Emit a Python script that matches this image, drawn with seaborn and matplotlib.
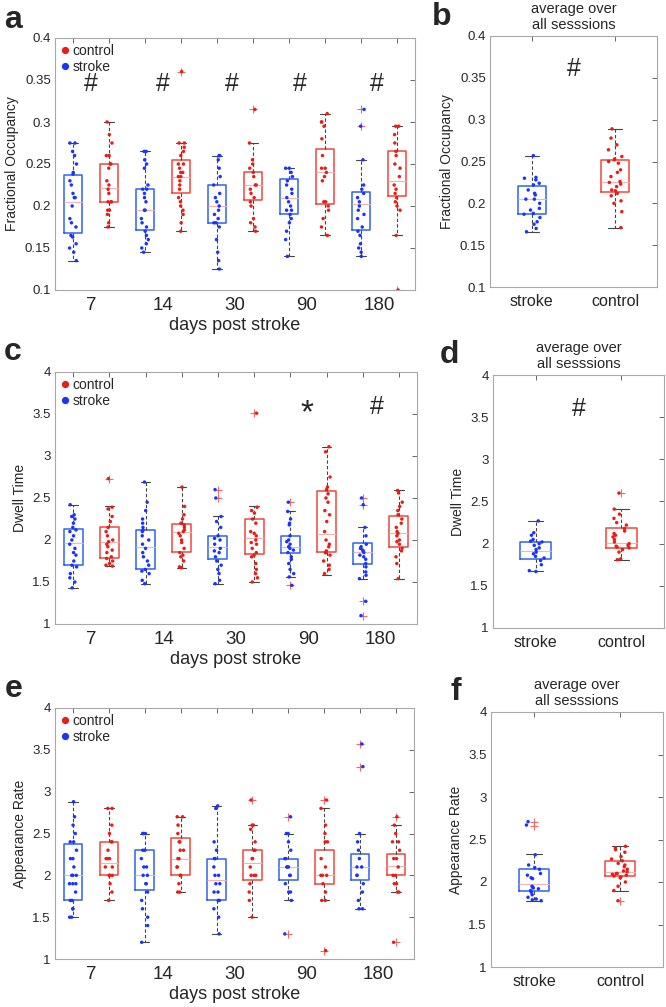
"""Fractional occupancy / dwell time / appearance rate after stroke, MATLAB-style boxplots."""
import matplotlib
matplotlib.use("Agg")
import matplotlib.pyplot as plt
from matplotlib.lines import Line2D
from matplotlib.ticker import FuncFormatter
import numpy as np
import pandas as pd
import seaborn as sns

np.random.seed(7)  # only for the horizontal jitter of the dots

days = ["7", "14", "30", "90", "180"]
box_groups = ["stroke", "control"] * 5
summary_groups = ["stroke", "control"]

# ---------------- a: fractional occupancy per session ----------------
fo_q1 = [0.168, 0.205, 0.171, 0.215, 0.180, 0.207, 0.190, 0.202, 0.172, 0.212]
fo_med = [0.205, 0.222, 0.195, 0.235, 0.200, 0.225, 0.210, 0.240, 0.202, 0.230]
fo_q3 = [0.237, 0.250, 0.220, 0.255, 0.225, 0.240, 0.232, 0.268, 0.217, 0.265]
fo_lo = [0.135, 0.175, 0.145, 0.170, 0.125, 0.170, 0.140, 0.165, 0.140, 0.165]
fo_hi = [0.275, 0.300, 0.265, 0.275, 0.260, 0.275, 0.245, 0.310, 0.255, 0.295]
fo_fliers = [[], [], [], [0.36], [], [0.315], [], [], [0.315, 0.295], [0.10]]
fo_points = [
    [0.275, 0.275, 0.265, 0.26, 0.25, 0.24, 0.238, 0.23, 0.225, 0.215, 0.21, 0.21,
     0.2, 0.185, 0.18, 0.175, 0.165, 0.163, 0.155, 0.15, 0.145, 0.135],
    [0.30, 0.285, 0.275, 0.26, 0.26, 0.25, 0.25, 0.245, 0.23, 0.225, 0.22, 0.215,
     0.205, 0.205, 0.205, 0.195, 0.195, 0.19, 0.18, 0.175],
    [0.265, 0.265, 0.255, 0.25, 0.245, 0.225, 0.22, 0.22, 0.215, 0.21, 0.205, 0.195,
     0.195, 0.185, 0.18, 0.175, 0.17, 0.165, 0.16, 0.155, 0.15, 0.145],
    [0.36, 0.275, 0.275, 0.27, 0.265, 0.26, 0.25, 0.25, 0.245, 0.24, 0.24, 0.235, 0.235,
     0.23, 0.225, 0.22, 0.21, 0.205, 0.2, 0.195, 0.19, 0.18, 0.17],
    [0.26, 0.26, 0.255, 0.245, 0.235, 0.225, 0.215, 0.21, 0.205, 0.2, 0.195, 0.19,
     0.185, 0.18, 0.18, 0.175, 0.16, 0.145, 0.135, 0.125],
    [0.315, 0.275, 0.255, 0.25, 0.245, 0.24, 0.235, 0.225, 0.225, 0.22, 0.215, 0.21,
     0.205, 0.2, 0.185, 0.18, 0.175, 0.17],
    [0.245, 0.245, 0.24, 0.235, 0.23, 0.225, 0.22, 0.215, 0.21, 0.205, 0.2, 0.195,
     0.195, 0.19, 0.185, 0.18, 0.17, 0.16, 0.14],
    [0.31, 0.3, 0.3, 0.295, 0.28, 0.26, 0.245, 0.245, 0.24, 0.235, 0.23, 0.205,
     0.205, 0.2, 0.195, 0.185, 0.175, 0.165],
    [0.315, 0.295, 0.255, 0.225, 0.22, 0.215, 0.21, 0.205, 0.2, 0.195, 0.19, 0.185,
     0.175, 0.17, 0.165, 0.155, 0.15, 0.145, 0.14],
    [0.295, 0.295, 0.285, 0.275, 0.265, 0.26, 0.25, 0.245, 0.235, 0.225, 0.22, 0.215,
     0.21, 0.205, 0.2, 0.195, 0.165, 0.10],
]
fo_marks = [(1.5, "#"), (3.5, "#"), (5.4, "#"), (7.3, "#"), (9.45, "#")]

# ---------------- b: fractional occupancy, averaged ----------------
fo_avg_q1 = [0.187, 0.214]
fo_avg_med = [0.205, 0.226]
fo_avg_q3 = [0.221, 0.252]
fo_avg_lo = [0.166, 0.171]
fo_avg_hi = [0.257, 0.289]
fo_avg_fliers = [[], []]
fo_avg_points = [
    [0.257, 0.231, 0.230, 0.228, 0.224, 0.222, 0.216, 0.212, 0.210, 0.205, 0.205,
     0.2, 0.194, 0.192, 0.188, 0.187, 0.183, 0.178, 0.175, 0.17, 0.166],
    [0.289, 0.278, 0.27, 0.264, 0.256, 0.253, 0.252, 0.25, 0.248, 0.24, 0.237, 0.232,
     0.226, 0.225, 0.223, 0.22, 0.216, 0.215, 0.212, 0.209, 0.203, 0.2, 0.19, 0.171],
]

# ---------------- c: dwell time per session ----------------
dt_q1 = [1.70, 1.78, 1.66, 1.86, 1.77, 1.83, 1.84, 1.86, 1.71, 1.92]
dt_med = [1.97, 1.98, 1.92, 2.09, 1.92, 2.02, 1.92, 2.07, 1.86, 2.08]
dt_q3 = [2.135, 2.16, 2.12, 2.19, 2.05, 2.25, 2.05, 2.58, 1.96, 2.29]
dt_lo = [1.425, 1.69, 1.48, 1.67, 1.48, 1.50, 1.56, 1.58, 1.54, 1.54]
dt_hi = [2.42, 2.40, 2.69, 2.63, 2.29, 2.40, 2.34, 3.11, 2.15, 2.60]
dt_fliers = [[], [2.73], [], [], [2.60, 2.50], [3.51], [2.45, 1.46], [],
             [2.50, 2.42, 1.27, 1.10], []]
dt_points = [
    [2.42, 2.30, 2.28, 2.25, 2.20, 2.15, 2.12, 2.10, 2.05, 2.0, 1.95, 1.9, 1.85,
     1.82, 1.75, 1.7, 1.68, 1.6, 1.55, 1.5, 1.43],
    [2.73, 2.39, 2.37, 2.28, 2.22, 2.15, 2.1, 2.05, 2.0, 1.98, 1.95, 1.92, 1.88,
     1.85, 1.8, 1.78, 1.75, 1.72, 1.70, 1.69],
    [2.69, 2.45, 2.35, 2.25, 2.2, 2.15, 2.12, 2.1, 2.05, 2.0, 1.95, 1.9, 1.85, 1.8,
     1.75, 1.7, 1.65, 1.63, 1.6, 1.52, 1.48],
    [2.63, 2.4, 2.3, 2.25, 2.2, 2.18, 2.15, 2.12, 2.1, 2.08, 2.05, 2.0, 1.97, 1.9,
     1.85, 1.82, 1.8, 1.75, 1.68, 1.67],
    [2.60, 2.50, 2.28, 2.22, 2.15, 2.05, 2.02, 2.0, 1.95, 1.9, 1.87, 1.85, 1.8,
     1.75, 1.7, 1.65, 1.6, 1.52, 1.48],
    [3.51, 2.39, 2.35, 2.32, 2.25, 2.2, 2.1, 2.08, 2.05, 2.0, 1.97, 1.95, 1.9, 1.85,
     1.82, 1.8, 1.72, 1.65, 1.6, 1.55, 1.5],
    [2.45, 2.34, 2.25, 2.2, 2.18, 2.05, 2.0, 1.98, 1.95, 1.92, 1.9, 1.88, 1.85, 1.8,
     1.77, 1.72, 1.65, 1.6, 1.56, 1.46],
    [3.11, 3.05, 2.75, 2.63, 2.6, 2.55, 2.5, 2.45, 2.35, 2.3, 2.22, 2.1, 2.0, 1.95,
     1.92, 1.87, 1.85, 1.85, 1.82, 1.75, 1.7, 1.65, 1.6],
    [2.50, 2.42, 2.15, 2.05, 1.95, 1.92, 1.9, 1.88, 1.87, 1.85, 1.82, 1.8, 1.77,
     1.72, 1.68, 1.62, 1.58, 1.54, 1.27, 1.10],
    [2.59, 2.56, 2.45, 2.40, 2.35, 2.3, 2.25, 2.2, 2.15, 2.1, 2.08, 2.05, 2.0, 1.98,
     1.95, 1.9, 1.87, 1.8, 1.72, 1.54],
]
dt_marks = [(7.45, "*"), (9.4, "#")]

# ---------------- d: dwell time, averaged ----------------
dt_avg_q1 = [1.82, 1.95]
dt_avg_med = [1.91, 2.01]
dt_avg_q3 = [2.02, 2.18]
dt_avg_lo = [1.67, 1.81]
dt_avg_hi = [2.27, 2.41]
dt_avg_fliers = [[], [2.60]]
dt_avg_points = [
    [2.27, 2.13, 2.1, 2.05, 2.03, 2.02, 2.0, 1.98, 1.95, 1.93, 1.9, 1.88, 1.85,
     1.83, 1.8, 1.75, 1.68, 1.67],
    [2.60, 2.41, 2.35, 2.3, 2.25, 2.22, 2.18, 2.15, 2.12, 2.1, 2.08, 2.05, 2.02, 2.0,
     1.98, 1.97, 1.96, 1.95, 1.93, 1.9, 1.82, 1.81],
]

# ---------------- e: appearance rate per session ----------------
ar_q1 = [1.70, 2.00, 1.82, 2.00, 1.70, 1.95, 1.95, 1.90, 1.95, 2.00]
ar_med = [2.00, 2.15, 2.00, 2.20, 1.95, 2.15, 2.10, 2.00, 2.10, 2.11]
ar_q3 = [2.38, 2.40, 2.30, 2.45, 2.20, 2.30, 2.20, 2.30, 2.25, 2.25]
ar_lo = [1.50, 1.70, 1.20, 1.80, 1.30, 1.50, 1.70, 1.70, 1.60, 1.80]
ar_hi = [2.88, 2.80, 2.50, 2.70, 2.83, 2.60, 2.50, 2.80, 2.50, 2.60]
ar_fliers = [[], [], [], [], [], [2.9], [2.7, 1.3], [2.9, 1.1], [3.57, 3.3], [2.7, 1.2]]
ar_points = [
    [2.88, 2.7, 2.6, 2.5, 2.4, 2.4, 2.3, 2.2, 2.2, 2.1, 2.0, 2.0, 2.0, 1.9, 1.9,
     1.9, 1.8, 1.7, 1.7, 1.6, 1.6, 1.5, 1.5],
    [2.8, 2.8, 2.6, 2.5, 2.4, 2.4, 2.3, 2.2, 2.2, 2.2, 2.1, 2.1, 2.0, 2.0, 2.0, 1.9,
     1.8, 1.7],
    [2.5, 2.5, 2.5, 2.3, 2.3, 2.2, 2.1, 2.1, 2.0, 2.0, 1.9, 1.9, 1.8, 1.7, 1.6, 1.5,
     1.4, 1.2],
    [2.7, 2.7, 2.6, 2.5, 2.4, 2.4, 2.3, 2.3, 2.2, 2.2, 2.1, 2.1, 2.0, 2.0, 1.9, 1.8,
     1.8],
    [2.83, 2.8, 2.4, 2.3, 2.2, 2.2, 2.1, 2.0, 2.0, 1.9, 1.9, 1.8, 1.8, 1.7, 1.7,
     1.6, 1.5, 1.3],
    [2.9, 2.6, 2.6, 2.55, 2.4, 2.3, 2.3, 2.2, 2.2, 2.1, 2.0, 2.0, 2.0, 1.9, 1.8,
     1.7, 1.5],
    [2.7, 2.5, 2.5, 2.4, 2.3, 2.2, 2.2, 2.1, 2.1, 2.1, 2.0, 2.0, 1.9, 1.8, 1.8, 1.7,
     1.3],
    [2.9, 2.8, 2.6, 2.5, 2.4, 2.4, 2.2, 2.1, 2.0, 2.0, 2.0, 1.9, 1.8, 1.7, 1.7, 1.1],
    [3.57, 3.3, 2.5, 2.4, 2.3, 2.2, 2.1, 2.1, 2.0, 2.0, 1.9, 1.8, 1.7, 1.6, 1.6],
    [2.7, 2.6, 2.5, 2.4, 2.4, 2.3, 2.2, 2.2, 2.1, 2.0, 2.0, 1.9, 1.9, 1.8, 1.8, 1.2],
]

# ---------------- f: appearance rate, averaged ----------------
ar_avg_q1 = [1.90, 2.07]
ar_avg_med = [1.98, 2.12]
ar_avg_q3 = [2.15, 2.25]
ar_avg_lo = [1.78, 1.90]
ar_avg_hi = [2.33, 2.42]
ar_avg_fliers = [[2.71, 2.66], [1.78]]
ar_avg_points = [
    [2.71, 2.67, 2.32, 2.2, 2.17, 2.15, 2.1, 2.08, 2.05, 2.04, 1.95, 1.94, 1.93,
     1.92, 1.9, 1.88, 1.85, 1.82, 1.8, 1.79, 1.78],
    [2.42, 2.4, 2.38, 2.35, 2.3, 2.27, 2.25, 2.22, 2.2, 2.18, 2.15, 2.13, 2.12, 2.1,
     2.1, 2.09, 2.08, 2.07, 2.06, 2.05, 2.0, 1.95, 1.9, 1.78],
]

BOX_COL = {"stroke": "#2f62f2", "control": "#f0463c"}
DOT_COL = {"stroke": "#1a34ff", "control": "#ea1c16"}
MED_COL = "#f6b4b4"
FLIER_COL = "#f06a6a"
SPINE_COL = "#a8a8a8"

sns.set_style("white")
plt.rcParams["font.family"] = ["Liberation Sans", "DejaVu Sans"]


def _fmt(v, _):
    return f"{v:g}"


def draw_panel(ax, groups, q1, med, q3, lo, hi, fliers, points, width):
    pos = np.arange(1, len(groups) + 1)
    stats = [
        {"q1": q1[i], "med": med[i], "q3": q3[i], "whislo": lo[i], "whishi": hi[i],
         "fliers": fliers[i]}
        for i in range(len(groups))
    ]
    art = ax.bxp(stats, positions=pos, widths=width, manage_ticks=False,
                 showfliers=True, capwidths=width / 2,
                 boxprops={"linewidth": 1.1},
                 whiskerprops={"linestyle": (0, (3, 2)), "linewidth": 0.8, "color": "#444444"},
                 capprops={"linewidth": 0.8, "color": "#444444"},
                 medianprops={"linewidth": 0.8, "color": MED_COL},
                 flierprops={"marker": "+", "markersize": 6, "markeredgewidth": 0.8,
                             "markeredgecolor": FLIER_COL, "linestyle": "none"})
    for box, g in zip(art["boxes"], groups):
        box.set_color(BOX_COL[g])

    df = pd.DataFrame(
        [(pos[i], groups[i], v) for i in range(len(groups)) for v in points[i]],
        columns=["pos", "group", "value"],
    )
    sns.stripplot(data=df, x="pos", y="value", hue="group", palette=DOT_COL,
                  native_scale=True, jitter=0.1, size=2.5, linewidth=0,
                  legend=False, ax=ax, zorder=3)

    ax.set_xlim(0.5, len(groups) + 0.5)
    ax.set_xticks(pos)
    ax.set_xticklabels([])
    ax.yaxis.set_major_formatter(FuncFormatter(_fmt))
    ax.tick_params(which="major", direction="in", top=True, right=True, length=3.5,
                   width=0.7, color="#666666", labelsize=9.5, pad=3)
    for s in ax.spines.values():
        s.set_color(SPINE_COL)
        s.set_linewidth(0.8)
    ax.set_xlabel("")


def session_axes(ax, ylabel, ylim, yticks):
    ax.set_ylim(*ylim)
    ax.set_yticks(yticks)
    ax.set_xticks([1.5, 3.5, 5.5, 7.5, 9.5], minor=True)
    ax.set_xticklabels(days, minor=True, fontsize=13.5)
    ax.tick_params(which="minor", length=0, pad=5)
    ax.set_xlabel("days post stroke", fontsize=13, labelpad=2)
    ax.set_ylabel(ylabel, fontsize=10, labelpad=4)
    handles = [Line2D([], [], marker="o", ls="", color=DOT_COL["control"], markersize=4.2, label="control"),
               Line2D([], [], marker="o", ls="", color=DOT_COL["stroke"], markersize=4.2, label="stroke")]
    ax.legend(handles=handles, loc="upper left", frameon=False, fontsize=10,
              handlelength=0.6, handletextpad=0.25, labelspacing=0.2,
              borderaxespad=0.2, borderpad=0.2)


def summary_axes(ax, ylabel, ylim, yticks):
    ax.set_ylim(*ylim)
    ax.set_yticks(yticks)
    ax.set_xlim(0.5, 2.5)
    ax.set_xticklabels(summary_groups, fontsize=11.5)
    ax.tick_params(axis="x", pad=5)
    ax.set_ylabel(ylabel, fontsize=10, labelpad=4)
    ax.set_title("average over\nall sesssions", fontsize=10.5, pad=5, linespacing=1.15)


fig = plt.figure(figsize=(6.66, 10.07), dpi=100)

W, H = 666, 1007


def add(left, top, right, bottom):
    return fig.add_axes([left / W, 1 - bottom / H, (right - left) / W, (bottom - top) / H])


ax_a = add(55, 38, 415, 290)
ax_b = add(490, 36, 657, 287)
ax_c = add(55, 372, 417, 624)
ax_d = add(493, 375, 664, 628)
ax_e = add(55, 708, 414, 959)
ax_f = add(491, 712, 663, 967)

draw_panel(ax_a, box_groups, fo_q1, fo_med, fo_q3, fo_lo, fo_hi, fo_fliers, fo_points, 0.52)
session_axes(ax_a, "Fractional Occupancy", (0.1, 0.4), np.arange(0.1, 0.401, 0.05))
for x, m in fo_marks:
    ax_a.text(x, 0.345, m, fontsize=18, ha="center", va="center")

draw_panel(ax_b, summary_groups, fo_avg_q1, fo_avg_med, fo_avg_q3, fo_avg_lo, fo_avg_hi,
           fo_avg_fliers, fo_avg_points, 0.33)
summary_axes(ax_b, "Fractional Occupancy", (0.1, 0.4), np.arange(0.1, 0.401, 0.05))
ax_b.text(1.5, 0.36, "#", fontsize=18, ha="center", va="center")

draw_panel(ax_c, box_groups, dt_q1, dt_med, dt_q3, dt_lo, dt_hi, dt_fliers, dt_points, 0.52)
session_axes(ax_c, "Dwell Time", (1, 4), np.arange(1, 4.01, 0.5))
for x, m in dt_marks:
    ax_c.text(x, 3.5 if m == "*" else 3.58, m, fontsize=24 if m == "*" else 18,
              ha="center", va="center")

draw_panel(ax_d, summary_groups, dt_avg_q1, dt_avg_med, dt_avg_q3, dt_avg_lo, dt_avg_hi,
           dt_avg_fliers, dt_avg_points, 0.36)
summary_axes(ax_d, "Dwell Time", (1, 4), np.arange(1, 4.01, 0.5))
ax_d.text(1.5, 3.6, "#", fontsize=18, ha="center", va="center")

draw_panel(ax_e, box_groups, ar_q1, ar_med, ar_q3, ar_lo, ar_hi, ar_fliers, ar_points, 0.52)
session_axes(ax_e, "Appearance Rate", (1, 4), np.arange(1, 4.01, 0.5))

draw_panel(ax_f, summary_groups, ar_avg_q1, ar_avg_med, ar_avg_q3, ar_avg_lo, ar_avg_hi,
           ar_avg_fliers, ar_avg_points, 0.36)
summary_axes(ax_f, "Appearance Rate", (1, 4), np.arange(1, 4.01, 0.5))

for lab, x, y in [("a", 13, 20), ("b", 442, 17), ("c", 13, 352),
                  ("d", 449, 355), ("e", 14, 689), ("f", 456, 692)]:
    fig.text(x / W, 1 - y / H, lab, fontsize=23, fontweight="bold",
             ha="center", va="center")

fig.savefig("out.png", dpi=100)
